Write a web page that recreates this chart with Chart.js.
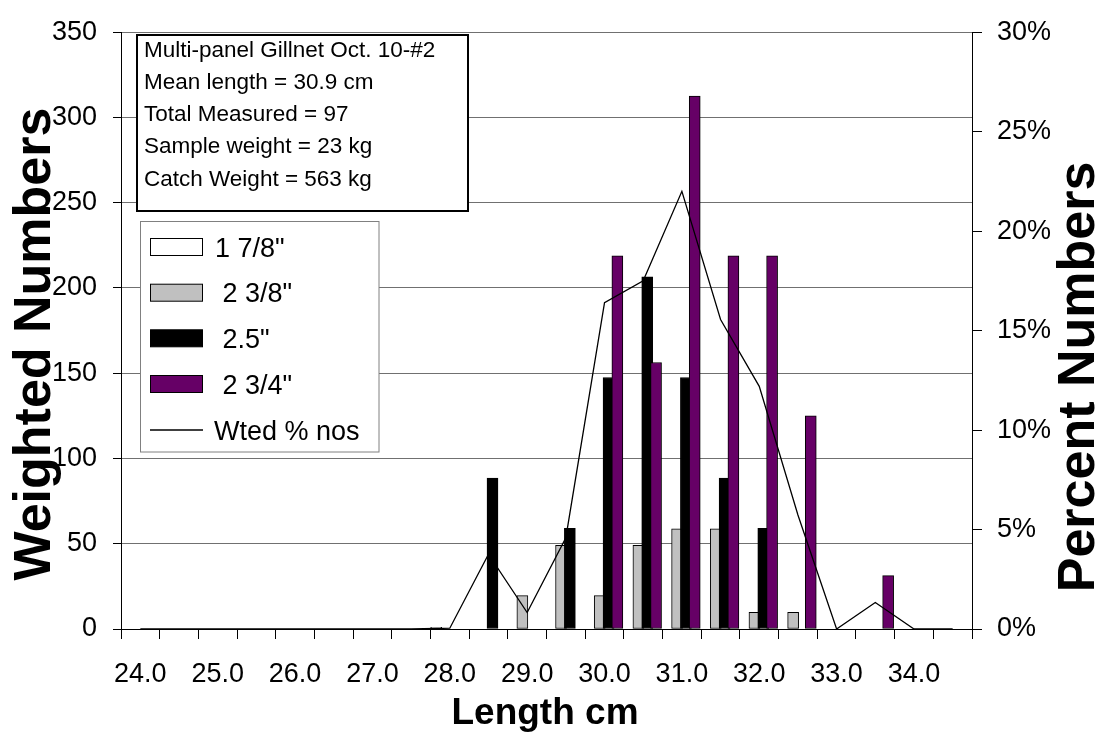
<!DOCTYPE html>
<html>
<head>
<meta charset="utf-8">
<title>Length frequency – Multi-panel Gillnet</title>
<script src="https://cdn.jsdelivr.net/npm/chart.js@4.4.1/dist/chart.umd.min.js"></script>
<style>
  html, body { margin: 0; padding: 0; background: #ffffff; }
  #wrap { width: 1096px; height: 734px; position: relative; }
</style>
</head>
<body>
<div id="wrap"><canvas id="lf"></canvas></div>
<script>
// Length classes (cm), one bar group per class
const lengthClasses = ['24.0','24.5','25.0','25.5','26.0','26.5','27.0','27.5','28.0','28.5','29.0',
                       '29.5','30.0','30.5','31.0','31.5','32.0','32.5','33.0','33.5','34.0','34.5'];

// Weighted numbers by mesh size
const mesh1_7_8 = [0,0,0,0,0,0,0,0,1,0,0,0,0,0,0,0,0,0,0,0,0,0];
const mesh2_3_8 = [0,0,0,0,0,0,0,0,0,0,19.6,49,19.6,49,58.8,58.8,9.8,9.8,0,0,0,0];
const mesh2_5   = [0,0,0,0,0,0,0,0,0,88.5,0,59,147.5,206.5,147.5,88.5,59,0,0,0,0,0];
const mesh2_3_4 = [0,0,0,0,0,0,0,0,0,0,0,0,218.8,156.3,312.5,218.8,218.8,125,0,31.3,0,0];

// Weighted percent of numbers (right axis)
const wtedPctNos = [0,0,0,0,0,0,0,0,0.04,3.76,0.83,4.59,16.4,17.5,22.0,15.56,12.2,5.73,0,1.33,0,0];

// Series names and colours
const meshNames  = ['1 7/8"', ' 2 3/8"', ' 2.5"', ' 2 3/4"'];
const meshFills  = ['#ffffff', '#c0c0c0', '#000000', '#660066'];
const lineName   = 'Wted % nos';

// Axis ranges
const leftAxis  = { min: 0, max: 350, step: 50 };
const rightAxis = { min: 0, max: 30,  step: 5 };

// Sample description box
const infoLines = [
  'Multi-panel Gillnet Oct. 10-#2',
  'Mean length = 30.9 cm',
  'Total Measured = 97',
  'Sample weight = 23 kg',
  'Catch Weight = 563 kg'
];

const FONT = "'Liberation Sans', Arial, Helvetica, sans-serif";
const meshSeries = [mesh1_7_8, mesh2_3_8, mesh2_5, mesh2_3_4];

// Bars overlap inside each class: step between neighbours and a small shift
const barStep = 0.114, barShift = -0.005;

const barSets = meshSeries.map((vals, k) => ({
  type: 'bar',
  label: meshNames[k],
  xAxisID: 'xb',
  yAxisID: 'y',
  grouped: false,
  barThickness: 11,
  backgroundColor: meshFills[k],
  borderColor: '#000000',
  borderWidth: 1,
  borderSkipped: false,
  order: 4 - k,          // later mesh sizes sit on top of earlier ones
  data: vals.map((v, i) => ({
    x: parseFloat(lengthClasses[i]) + (k - 1.5) * barStep + barShift,
    y: v > 0 ? v : null
  }))
}));

const overlay = {
  id: 'overlay',
  afterDraw(chart) {
    const c = chart.ctx;
    c.save();

    // Description box
    c.fillStyle = '#ffffff';
    c.fillRect(137, 35, 331, 176);
    c.strokeStyle = '#000000';
    c.lineWidth = 2;
    c.strokeRect(137, 35, 331, 176);
    c.fillStyle = '#000000';
    c.font = '22.5px ' + FONT;
    c.textAlign = 'left';
    c.textBaseline = 'alphabetic';
    infoLines.forEach((t, i) => c.fillText(t, 144, 56.7 + i * 32.25));

    // Legend
    c.fillStyle = '#ffffff';
    c.fillRect(140.5, 221.5, 238.5, 230.5);
    c.strokeStyle = '#808080';
    c.lineWidth = 1;
    c.strokeRect(140.5, 221.5, 238.5, 230.5);
    c.font = '27px ' + FONT;
    const rowY = [247, 292.7, 338.3, 384, 430];
    meshNames.forEach((name, k) => {
      const cy = rowY[k];
      c.fillStyle = meshFills[k];
      c.fillRect(150.5, cy - 8.5, 52, 17);
      c.strokeStyle = '#000000';
      c.lineWidth = 1;
      c.strokeRect(150.5, cy - 8.5, 52, 17);
      c.fillStyle = '#000000';
      c.fillText(name, 215, cy + 9.5);
    });
    c.strokeStyle = '#000000';
    c.lineWidth = 1.3;
    c.beginPath();
    c.moveTo(150, rowY[4]);
    c.lineTo(203, rowY[4]);
    c.stroke();
    c.fillStyle = '#000000';
    c.fillText(lineName, 214, rowY[4] + 9.5);

    // Axis titles
    c.font = 'bold 37px ' + FONT;
    c.textAlign = 'center';
    c.textBaseline = 'alphabetic';
    c.fillText('Length cm', 545, 724);

    c.font = 'bold 52px ' + FONT;
    c.save();
    c.translate(50, 344);
    c.rotate(-Math.PI / 2);
    c.fillText('Weighted Numbers', 0, 0);
    c.restore();

    c.save();
    c.translate(1094, 377);
    c.rotate(-Math.PI / 2);
    c.fillText('Percent Numbers', 0, 0);
    c.restore();

    c.restore();
  }
};

new Chart(document.getElementById('lf'), {
  data: {
    labels: lengthClasses,
    datasets: [
      ...barSets,
      {
        type: 'line',
        label: lineName,
        xAxisID: 'x',
        yAxisID: 'y2',
        data: wtedPctNos,
        borderColor: '#000000',
        borderWidth: 1.3,
        pointRadius: 0,
        tension: 0,
        fill: false,
        order: 0
      }
    ]
  },
  options: {
    responsive: true,
    maintainAspectRatio: false,
    devicePixelRatio: 1,
    animation: false,
    layout: { padding: { top: 22, left: 0, right: 0, bottom: 0 } },
    plugins: { legend: { display: false }, tooltip: { enabled: false } },
    scales: {
      x: {
        type: 'category',
        position: 'bottom',
        offset: true,
        grid: { offset: true, drawOnChartArea: false, tickLength: 10, tickColor: '#000000', color: '#000000' },
        border: { color: '#000000', width: 1 },
        ticks: {
          autoSkip: false, maxRotation: 0, minRotation: 0, padding: 19,
          color: '#000000', font: { family: FONT, size: 27 },
          callback: (v, i) => (i % 2 === 0 ? lengthClasses[i] : '')
        },
        afterFit: s => { s.height = 105; }
      },
      xb: {
        type: 'linear',
        display: false,
        offset: false,
        min: parseFloat(lengthClasses[0]) - 0.25,
        max: parseFloat(lengthClasses[lengthClasses.length - 1]) + 0.25
      },
      y: {
        position: 'left',
        min: leftAxis.min, max: leftAxis.max,
        grid: { color: '#707070', lineWidth: 1, tickColor: '#000000', tickLength: 8 },
        border: { color: '#000000', width: 1 },
        ticks: { stepSize: leftAxis.step, padding: 16, color: '#000000', font: { family: FONT, size: 27 } },
        afterFit: s => { s.width = 121; }
      },
      y2: {
        position: 'right',
        min: rightAxis.min, max: rightAxis.max,
        grid: { drawOnChartArea: false, tickColor: '#000000', tickLength: 10 },
        border: { color: '#000000', width: 1 },
        ticks: {
          stepSize: rightAxis.step, padding: 15, color: '#000000', font: { family: FONT, size: 27 },
          callback: v => v + '%'
        },
        afterFit: s => { s.width = 124; }
      }
    }
  },
  plugins: [overlay]
});
</script>
</body>
</html>
